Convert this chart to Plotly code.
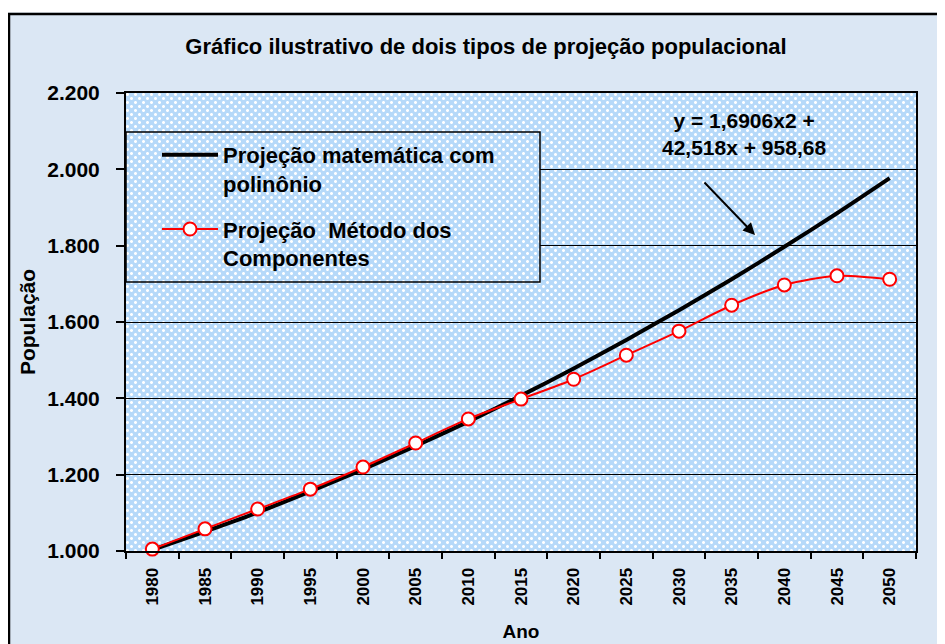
import base64
import plotly.graph_objects as go

# ---------------- data ----------------
years = ["1980", "1985", "1990", "1995", "2000", "2005", "2010", "2015",
         "2020", "2025", "2030", "2035", "2040", "2045", "2050"]
proj_polinomio = [1003, 1051, 1101, 1156, 1214, 1275, 1339, 1407,
                  1478, 1553, 1631, 1712, 1797, 1885, 1977]
proj_componentes = [1005, 1058, 1110, 1162, 1220, 1283, 1346, 1398,
                    1450, 1513, 1576, 1644, 1697, 1721, 1712]
y_ticks = [1000, 1200, 1400, 1600, 1800, 2000, 2200]

title_text = "Gráfico ilustrativo de dois tipos de projeção populacional"
name_poly = "Projeção matemática com<br>polinônio"
name_comp = "Projeção  Método dos<br>Componentes"
eq_text = "y = 1,6906x2 +<br>42,518x + 958,68"

# ---------------- geometry (window px; page body has an 8px margin) ----------------
W, H = 945, 644
OFF = 8
PL, PT, PR, PB = 126, 93, 916, 551          # plot area in window pixels
PW, PH = PR - PL, PB - PT
L, T = PL - OFF, PT - OFF
R, B = W - L - PW, H - T - PH


def px2x(px):
    return (px - PL) / PW


def px2y(py):
    return (PB - py) / PH


def pattern_uri(w, h):
    # light-blue background with staggered small white crosses
    cross = lambda cx, cy: (
        f'<rect x="{cx-1}" y="{cy-1}" width="3" height="3" fill="#dcedfd"/>'
        f'<rect x="{cx}" y="{cy-1}" width="1" height="3" fill="#ffffff"/>'
        f'<rect x="{cx-1}" y="{cy}" width="3" height="1" fill="#ffffff"/>'
    )
    svg = (
        f'<svg xmlns="http://www.w3.org/2000/svg" width="{w}" height="{h}" '
        f'viewBox="0 0 {w} {h}" shape-rendering="crispEdges">'
        '<defs><pattern id="p" width="8" height="8" patternUnits="userSpaceOnUse">'
        '<rect width="8" height="8" fill="#b6d9f9"/>'
        + cross(1, 1) + cross(5, 5) +
        '</pattern></defs>'
        f'<rect width="{w}" height="{h}" fill="url(#p)"/></svg>'
    )
    return "data:image/svg+xml;base64," + base64.b64encode(svg.encode()).decode()


FONT = "Liberation Sans, Arial, sans-serif"

fig = go.Figure()
fig.add_trace(go.Scatter(
    x=years, y=proj_polinomio, name=name_poly, mode="lines",
    line=dict(color="black", width=4, shape="spline", smoothing=0.6),
    legendgroup="a", cliponaxis=False,
))
fig.add_trace(go.Scatter(
    x=years, y=proj_componentes, name=name_comp, mode="lines+markers",
    line=dict(color="#ff0000", width=2, shape="spline", smoothing=0.8),
    marker=dict(symbol="circle", size=13, color="white",
                line=dict(color="#ff0000", width=2)),
    legendgroup="b", cliponaxis=False,
))

# legend box geometry (window px)
lx0, lx1, ly0, ly1 = 126, 540, 132, 282

fig.update_layout(
    width=W, height=H,
    margin=dict(l=L, r=R, t=T, b=B, autoexpand=False),
    paper_bgcolor="#dbe7f4",
    plot_bgcolor="rgba(0,0,0,0)",
    separators=",.",
    font=dict(family=FONT, size=19, color="black", weight="bold"),
    title=dict(text=title_text, x=(486 - OFF) / W, xanchor="center",
               y=1 - (46 - OFF) / H, yanchor="middle",
               font=dict(family=FONT, size=22, color="black", weight="bold")),
    showlegend=True,
    legend=dict(
        x=px2x(157), y=px2y(134), xanchor="left", yanchor="top",
        bgcolor="rgba(0,0,0,0)", borderwidth=0,
        font=dict(family=FONT, size=22, color="black", weight="bold"),
        traceorder="grouped", tracegroupgap=14, valign="top",
        itemwidth=56,
    ),
    xaxis=dict(
        type="category", range=[-0.5, len(years) - 0.5], tickson="boundaries",
        ticks="outside", ticklen=6, tickwidth=2, tickcolor="black",
        showline=True, linewidth=2, linecolor="black", mirror=True,
        showgrid=False, zeroline=False,
        tickangle=-90, tickfont=dict(family=FONT, size=17, weight="bold"),
        ticklabelstandoff=8,
        title=dict(text="Ano", standoff=20,
                   font=dict(family=FONT, size=19, weight="bold")),
    ),
    yaxis=dict(
        range=[1000, 2200], tickvals=y_ticks, tickformat=",.0f",
        ticks="outside", ticklen=8, tickwidth=2, tickcolor="black",
        showline=True, linewidth=2, linecolor="black", mirror=True,
        showgrid=True, gridcolor="black", gridwidth=1, zeroline=False,
        tickfont=dict(family=FONT, size=21, weight="bold"),
        ticklabelstandoff=12,
        title=dict(text="População", standoff=6,
                   font=dict(family=FONT, size=21, weight="bold")),
    ),
    images=[
        dict(source=pattern_uri(PW, PH), xref="paper", yref="paper",
             x=0, y=1, sizex=1, sizey=1, xanchor="left", yanchor="top",
             sizing="stretch", layer="below"),
        dict(source=pattern_uri(lx1 - lx0, ly1 - ly0), xref="paper", yref="paper",
             x=px2x(lx0), y=px2y(ly0), sizex=px2x(lx1) - px2x(lx0),
             sizey=px2y(ly0) - px2y(ly1), xanchor="left", yanchor="top",
             sizing="stretch", layer="above"),
    ],
    shapes=[
        # white strip above the chart frame
        dict(type="rect", xref="paper", yref="paper",
             x0=px2x(0), x1=px2x(1000), y0=px2y(0), y1=px2y(12.5),
             fillcolor="white", line=dict(width=0), layer="below"),
        # outer chart frame
        dict(type="rect", xref="paper", yref="paper",
             x0=px2x(9), x1=px2x(1000), y0=px2y(14), y1=px2y(720),
             fillcolor="rgba(0,0,0,0)", line=dict(color="black", width=2.5),
             layer="below"),
        # legend box border
        dict(type="rect", xref="paper", yref="paper",
             x0=px2x(lx0), x1=px2x(lx1), y0=px2y(ly0), y1=px2y(ly1),
             fillcolor="rgba(0,0,0,0)", line=dict(color="black", width=1.5),
             layer="above"),
    ],
    annotations=[
        dict(text=eq_text, xref="paper", yref="paper",
             x=px2x(744), y=px2y(134), xanchor="center", yanchor="middle",
             showarrow=False, align="center",
             font=dict(family=FONT, size=21, color="black", weight="bold")),
        dict(text="", xref="paper", yref="paper",
             x=px2x(755), y=px2y(235), showarrow=True,
             ax=703 - 755, ay=181 - 235, axref="pixel", ayref="pixel",
             arrowhead=2, arrowsize=1.2, arrowwidth=2, arrowcolor="black"),
    ],
)

fig.write_html("out.html")
